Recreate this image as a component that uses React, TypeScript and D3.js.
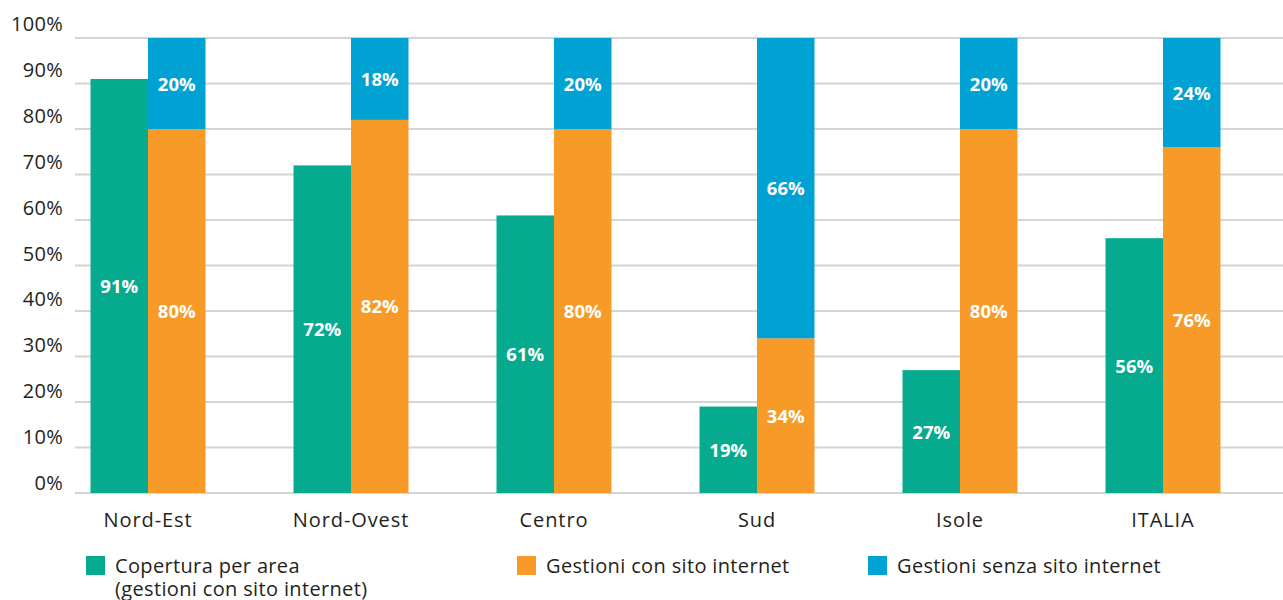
import React from "react";
import * as d3 from "d3";

const categories = ["Nord-Est", "Nord-Ovest", "Centro", "Sud", "Isole", "ITALIA"];
const copertura = [91, 72, 61, 19, 27, 56];
const conSito = [80, 82, 80, 34, 80, 76];
const senzaSito = [20, 18, 20, 66, 20, 24];
const yTicks = [0, 10, 20, 30, 40, 50, 60, 70, 80, 90, 100];
const legendItems = [
  { label: ["Copertura per area", "(gestioni con sito internet)"], color: "#06AB8F" },
  { label: ["Gestioni con sito internet"], color: "#F79A28" },
  { label: ["Gestioni senza sito internet"], color: "#00A2D3" },
];

const W = 1283;
const H = 600;
const GREEN = "#06AB8F";
const ORANGE = "#F79A28";
const BLUE = "#00A2D3";
const FONT = "'Open Sans', Lato, sans-serif";
const TEXT = "#231f20";

export default function App() {
  const y = d3.scaleLinear().domain([0, 100]).range([493, 38]);
  const yLabel = d3.scaleLinear().domain([0, 100]).range([490, 31]);
  const x = d3.scaleBand().domain(categories).range([46.5, 1264.5]).padding(0);
  const barW = 57.5;
  const legendX = [86, 517, 868];

  return (
    <svg width={W} height={H} style={{ position: "absolute", left: 0, top: 0, background: "#fff" }}>
      {yTicks.map((t) => (
        <line key={t} x1={75} x2={W} y1={y(t)} y2={y(t)} stroke="#d3d4d6" strokeWidth={2} />
      ))}
      {yTicks.map((t) => (
        <text key={"l" + t} x={63} y={yLabel(t)} textAnchor="end" fontFamily={FONT} fontSize={20} letterSpacing={0.3} fill={TEXT}>
          {t}%
        </text>
      ))}
      {categories.map((c, i) => {
        const cx = (x(c) as number) + x.bandwidth() / 2;
        const g = copertura[i];
        const o = conSito[i];
        const b = senzaSito[i];
        return (
          <g key={c}>
            <rect x={cx - barW} y={y(g)} width={barW} height={y(0) - y(g)} fill={GREEN} />
            <rect x={cx} y={y(o)} width={barW} height={y(0) - y(o)} fill={ORANGE} />
            <rect x={cx} y={y(o + b)} width={barW} height={y(o) - y(o + b)} fill={BLUE} />
            <text x={cx - barW / 2} y={(y(g) + y(0)) / 2} dy="0.38em" textAnchor="middle" fontFamily={FONT} fontWeight={700} fontSize={18.5} fill="#fff">
              {g}%
            </text>
            <text x={cx + barW / 2} y={(y(o) + y(0)) / 2} dy="0.38em" textAnchor="middle" fontFamily={FONT} fontWeight={700} fontSize={18.5} fill="#fff">
              {o}%
            </text>
            <text x={cx + barW / 2} y={(y(o + b) + y(o)) / 2} dy="0.38em" textAnchor="middle" fontFamily={FONT} fontWeight={700} fontSize={18.5} fill="#fff">
              {b}%
            </text>
            <text x={cx} y={527} textAnchor="middle" fontFamily={FONT} fontSize={20} letterSpacing={0.9} fill={TEXT}>
              {c}
            </text>
          </g>
        );
      })}
      {legendItems.map((it, i) => (
        <g key={i}>
          <rect x={legendX[i]} y={556} width={19} height={19} fill={it.color} />
          {it.label.map((l, j) => (
            <text key={j} x={legendX[i] + 29} y={572.5 + j * 23} fontFamily={FONT} fontSize={20} letterSpacing={0.35} fill={TEXT}>
              {l}
            </text>
          ))}
        </g>
      ))}
    </svg>
  );
}
